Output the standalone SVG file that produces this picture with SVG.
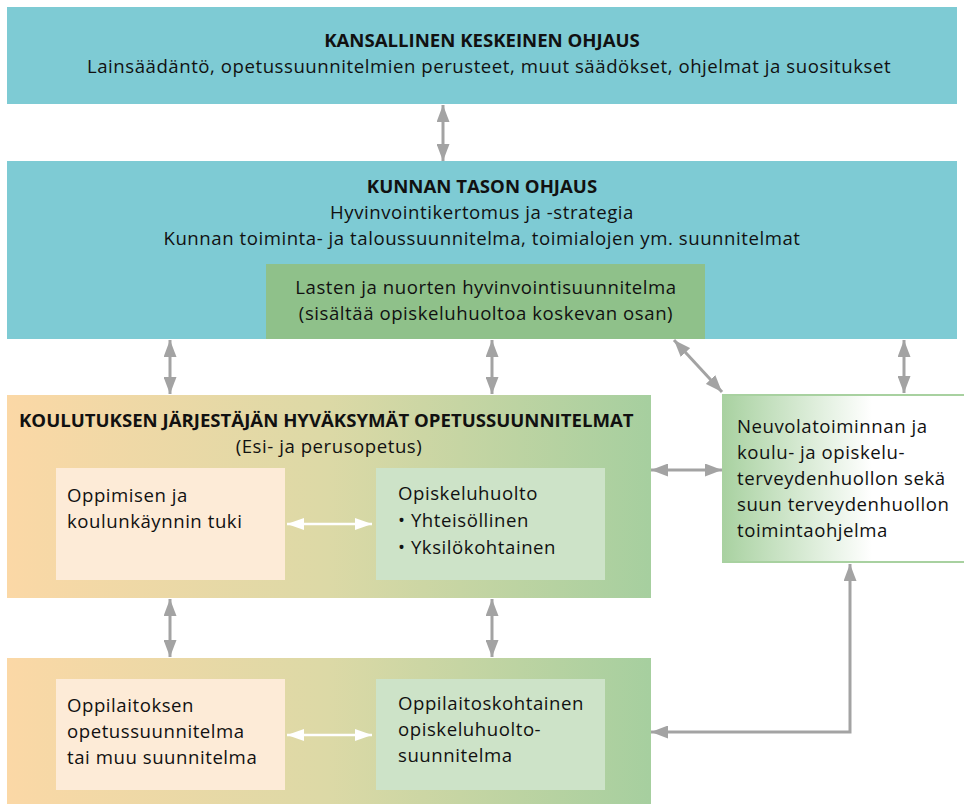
<svg xmlns="http://www.w3.org/2000/svg" width="964" height="804" viewBox="0 0 964 804">
<defs>
<linearGradient id="gOrangeGreen" x1="0" y1="0" x2="1" y2="0">
<stop offset="0" stop-color="#fbd8a6"/>
<stop offset="0.5" stop-color="#dcd9a6"/>
<stop offset="1" stop-color="#a6cf9f"/>
</linearGradient>
<linearGradient id="gGreenWhite" x1="0" y1="0" x2="1" y2="0">
<stop offset="0" stop-color="#a8d1a0"/>
<stop offset="0.6" stop-color="#ffffff"/>
<stop offset="1" stop-color="#ffffff"/>
</linearGradient>
<marker id="ah" viewBox="0 0 17 13" refX="17" refY="6.5" markerWidth="17" markerHeight="13" markerUnits="userSpaceOnUse" orient="auto-start-reverse">
<path d="M0,0 L17,6.5 L0,13 z" fill="#a3a3a3"/>
</marker>
<marker id="ahw" viewBox="0 0 17 12" refX="17" refY="6" markerWidth="17" markerHeight="12" markerUnits="userSpaceOnUse" orient="auto-start-reverse">
<path d="M0,0 L17,6 L0,12 z" fill="#ffffff"/>
</marker>
<style>
text{font-family:"Open Sans","Noto Sans","Liberation Sans",sans-serif;font-size:18.6px;letter-spacing:0.55px;fill:#111;}
.b{font-weight:bold;letter-spacing:0;}
.c{text-anchor:middle;}
.teal{fill:#7ecbd4;}
.gc{stroke:#a3a3a3;stroke-width:3;fill:none;marker-start:url(#ah);marker-end:url(#ah);}
.wc{stroke:#ffffff;stroke-width:2.5;fill:none;marker-start:url(#ahw);marker-end:url(#ahw);}
</style>
</defs>
<rect width="964" height="804" fill="#ffffff"/>

<g id="kansallinen">
<rect class="teal" x="7" y="7" width="950" height="97"/>
<text class="b c" x="482" y="47">KANSALLINEN KESKEINEN OHJAUS</text>
<text class="c" x="489" y="73">Lainsäädäntö, opetussuunnitelmien perusteet, muut säädökset, ohjelmat ja suositukset</text>
</g>

<g id="kunnan">
<rect class="teal" x="7" y="161" width="950" height="178"/>
<text class="b c" x="482" y="193">KUNNAN TASON OHJAUS</text>
<text class="c" x="482" y="219">Hyvinvointikertomus ja -strategia</text>
<text class="c" x="482" y="245">Kunnan toiminta- ja taloussuunnitelma, toimialojen ym. suunnitelmat</text>
</g>

<g id="hyvinvointisuunnitelma">
<rect x="266" y="264" width="439" height="75" fill="#8fc18a"/>
<text class="c" x="486" y="294">Lasten ja nuorten hyvinvointisuunnitelma</text>
<text class="c" x="486" y="320">(sisältää opiskeluhuoltoa koskevan osan)</text>
</g>

<g id="koulutuksen">
<rect x="7" y="395" width="644" height="203" fill="url(#gOrangeGreen)"/>
<text class="b" x="19" y="427">KOULUTUKSEN JÄRJESTÄJÄN HYVÄKSYMÄT OPETUSSUUNNITELMAT</text>
<text class="c" x="329" y="453">(Esi- ja perusopetus)</text>
</g>

<g id="oppimisen-tuki">
<rect x="56" y="468" width="229" height="112" fill="#fdebd7"/>
<text x="67" y="502">Oppimisen ja</text>
<text x="67" y="528">koulunkäynnin tuki</text>
</g>

<g id="opiskeluhuolto">
<rect x="376" y="468" width="229" height="112" fill="#cde3c8"/>
<text x="398" y="500">Opiskeluhuolto</text>
<text x="398" y="527">• Yhteisöllinen</text>
<text x="398" y="554">• Yksilökohtainen</text>
</g>

<g id="oppilaitos">
<rect x="7" y="658" width="644" height="146" fill="url(#gOrangeGreen)"/>
</g>

<g id="oppilaitoksen-ops">
<rect x="56" y="679" width="229" height="111" fill="#fdebd7"/>
<text x="67" y="712">Oppilaitoksen</text>
<text x="67" y="738">opetussuunnitelma</text>
<text x="67" y="764">tai muu suunnitelma</text>
</g>

<g id="oppilaitoskohtainen">
<rect x="376" y="679" width="229" height="111" fill="#cde3c8"/>
<text x="398" y="710">Oppilaitoskohtainen</text>
<text x="398" y="736">opiskeluhuolto-</text>
<text x="398" y="762">suunnitelma</text>
</g>

<g id="neuvola">
<rect x="722" y="394" width="250" height="169" fill="url(#gGreenWhite)"/>
<line x1="722" y1="395" x2="964" y2="395" stroke="#a8d1a0" stroke-width="2"/>
<line x1="722" y1="562" x2="964" y2="562" stroke="#a8d1a0" stroke-width="2"/>
<text x="737" y="433">Neuvolatoiminnan ja</text>
<text x="737" y="459">koulu- ja opiskelu-</text>
<text x="737" y="485">terveydenhuollon sekä</text>
<text x="737" y="511">suun terveydenhuollon</text>
<text x="737" y="537">toimintaohjelma</text>
</g>

<g id="connectors">
<line class="gc" x1="443" y1="105" x2="443" y2="161"/>
<line class="gc" x1="170" y1="340" x2="170" y2="394"/>
<line class="gc" x1="492" y1="340" x2="492" y2="394"/>
<line class="gc" x1="904" y1="340" x2="904" y2="393"/>
<line class="gc" x1="674" y1="340" x2="722" y2="392"/>
<line class="gc" x1="651" y1="470" x2="722" y2="470"/>
<line class="gc" x1="170" y1="599" x2="170" y2="657"/>
<line class="gc" x1="492" y1="599" x2="492" y2="657"/>
<path class="gc" d="M850,564 L850,732 L651,732"/>
<line class="wc" x1="287" y1="524" x2="372" y2="524"/>
<line class="wc" x1="287" y1="735" x2="372" y2="735"/>
</g>
</svg>
